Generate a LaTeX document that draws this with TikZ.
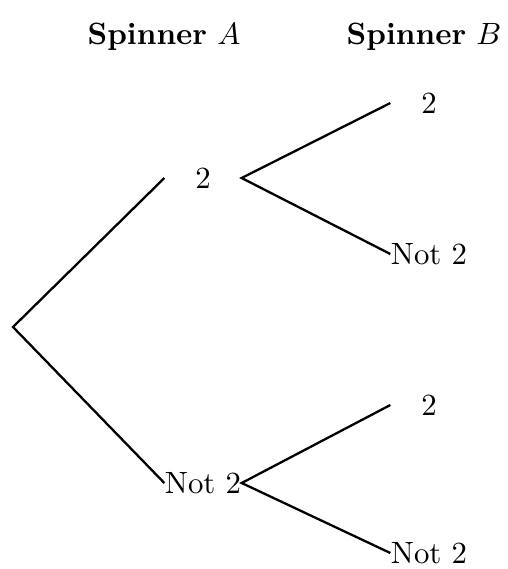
\documentclass[tikz,border=0pt]{standalone}
\begin{document}
\begin{tikzpicture}[x=0.3247pt,y=-0.3247pt,
  leaf/.style={inner sep=0pt,minimum width=24.7pt,anchor=center},
  branch/.style={line width=0.75pt},
  head/.style={inner sep=0pt}]
\useasboundingbox (0,0) rectangle (508,569);
\node[head] (hA) at (164,37) {\textbf{Spinner} $A$};
\node[head] (hB) at (424,37) {\textbf{Spinner} $B$};
\coordinate (root) at (13,327);
\node[leaf] (a2) at (203,178) {2};
\node[leaf] (an) at (203,483) {Not 2};
\node[leaf] (b1) at (429,103) {2};
\node[leaf] (b2) at (429,254) {Not 2};
\node[leaf] (b3) at (429,405) {2};
\node[leaf] (b4) at (429,553) {Not 2};
\draw[branch] (a2.west) -- (root) -- (an.west);
\draw[branch] (b1.west) -- (a2.east) -- (b2.west);
\draw[branch] (b3.west) -- (an.east) -- (b4.west);
\end{tikzpicture}
\end{document}
